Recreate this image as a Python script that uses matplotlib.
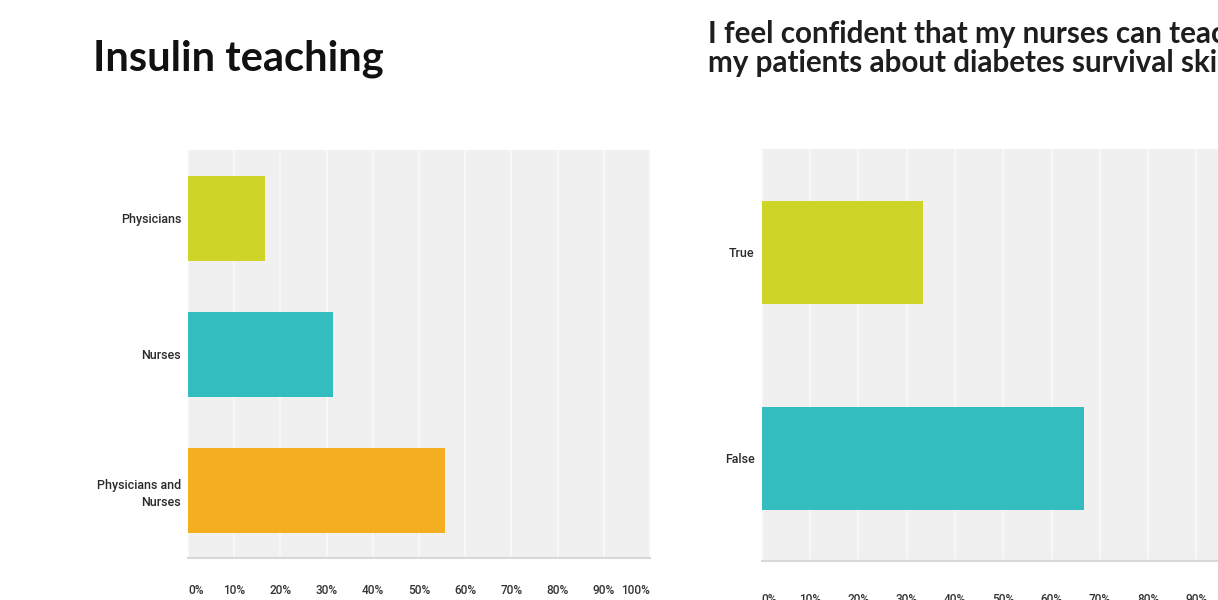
import matplotlib.pyplot as plt
import numpy as np

# survey results, percent of respondents
insulin_labels = ['Physicians', 'Nurses', 'Physicians and\nNurses']
insulin_values = [16.7, 31.4, 55.6]
insulin_colors = ['#cfd428', '#34bdbf', '#f5ae1f']

confident_labels = ['True', 'False']
confident_values = [33.3, 66.7]
confident_colors = ['#cfd428', '#34bdbf']

pct_ticks = np.arange(0, 101, 10)
pct_labels = ['%d%%' % t for t in pct_ticks]

tick_font = ['Roboto', 'DejaVu Sans']
title_font = ['Lato', 'DejaVu Sans']


def survey_bars(ax, labels, values, colors, bar_h, pad):
    y = np.arange(len(labels))
    ax.barh(y, values, height=bar_h, color=colors, zorder=3)
    ax.set_facecolor('#f0f0f0')
    ax.set_xlim(0, 100)
    ax.set_ylim(len(labels) - 0.5, -0.5)
    ax.set_yticks(y)
    ax.set_yticklabels(labels, family=tick_font, fontsize=9, color='#2a2a2a',
                       fontweight='medium', linespacing=1.4)
    ax.set_xticks(pct_ticks)
    ax.set_xticklabels(pct_labels, family=tick_font, fontsize=8.5,
                       color='#333333', fontweight='medium')
    xl = ax.get_xticklabels()
    xl[0].set_ha('left')
    xl[-1].set_ha('right')
    ax.tick_params(axis='both', length=0)
    ax.tick_params(axis='x', pad=pad)
    ax.tick_params(axis='y', pad=5)
    ax.grid(axis='x', color='#f7f7f7', linewidth=1.5, zorder=1)
    for s in ['top', 'right', 'left']:
        ax.spines[s].set_visible(False)
    ax.spines['bottom'].set_color('#d8d8d8')
    ax.spines['bottom'].set_linewidth(1.5)


fig = plt.figure(figsize=(12.18, 6), dpi=100)

ax1 = fig.add_axes([0.1544, 0.07, 0.3793, 0.68])
survey_bars(ax1, insulin_labels, insulin_values, insulin_colors, 0.625, 19)

ax2 = fig.add_axes([0.6254, 0.0645, 0.3966, 0.6867])
survey_bars(ax2, confident_labels, confident_values, confident_colors, 0.5, 23)

fig.text(0.076, 0.902, 'Insulin teaching', family=title_font, fontweight='bold',
         fontsize=30, color='#111111', ha='left', va='center')
fig.text(0.581, 0.919, 'I feel confident that my nurses can teach\n'
         'my patients about diabetes survival skills',
         family=title_font, fontweight='bold', fontsize=21.3, color='#1e1e1e',
         ha='left', va='center', linespacing=1.05)

fig.savefig('out.png', dpi=100)
